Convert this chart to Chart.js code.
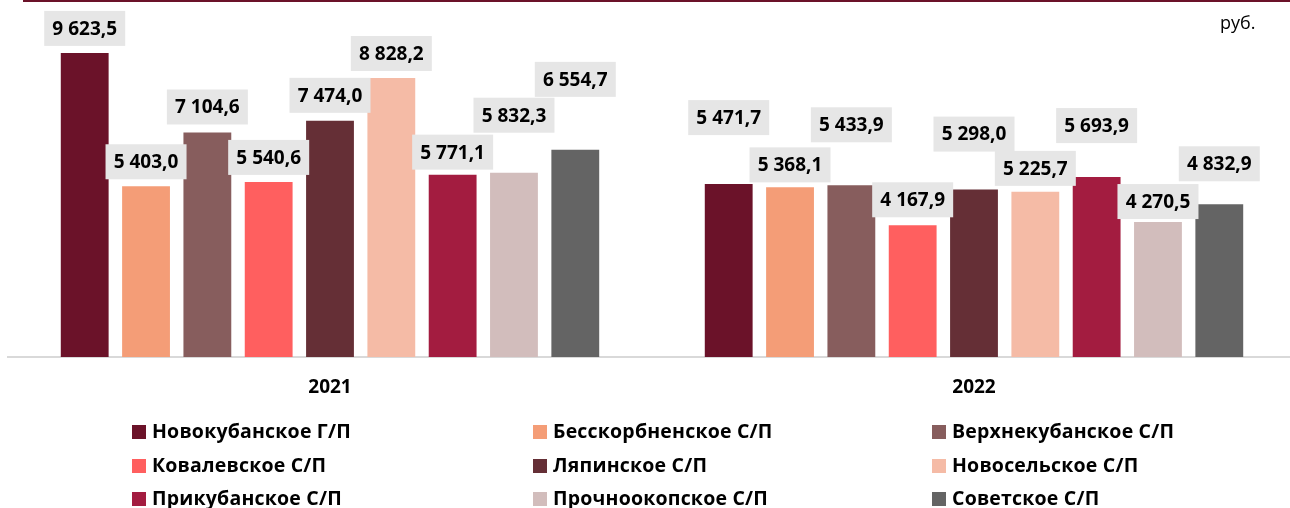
<!DOCTYPE html>
<html>
<head>
<meta charset="utf-8">
<script src="https://cdn.jsdelivr.net/npm/chart.js@4"></script>
<style>
  html, body { margin: 0; padding: 0; background: #fff; overflow: hidden; }
  #wrap { position: relative; width: 1296px; height: 508px; }
  #topLine { position: absolute; left: 23px; right: 0; top: 0; height: 2px; background: #6B1229; }
  #unit { position: absolute; left: 1220px; top: 10px; font: 18px "Open Sans", sans-serif; color: #000; }
  .leg { position: absolute; font: bold 19.5px "Open Sans", sans-serif; color: #000; white-space: nowrap; line-height: 20px; letter-spacing: 0.2px; }
  .leg span { display: inline-block; width: 14px; height: 14px; margin-right: 6px; vertical-align: -1px; }
</style>
</head>
<body>
<div id="wrap">
  <canvas id="chart" width="1296" height="508"></canvas>
  <div id="topLine"></div>
  <div id="unit">руб.</div>
  <div id="legend"></div>
</div>
<script>
const years = ['2021', '2022'];

const seriesNames = [
    'Новокубанское Г/П', 'Бесскорбненское С/П', 'Верхнекубанское С/П',
    'Ковалевское С/П', 'Ляпинское С/П', 'Новосельское С/П',
    'Прикубанское С/П', 'Прочноокопское С/П', 'Советское С/П'
];

// values by settlement: [2021, 2022]
const novokubanskoe = [9623.5, 5471.7];
const besskorbnenskoe = [5403.0, 5368.1];
const verkhnekubanskoe = [7104.6, 5433.9];
const kovalevskoe = [5540.6, 4167.9];
const lyapinskoe = [7474.0, 5298.0];
const novoselskoe = [8828.2, 5225.7];
const prikubanskoe = [5771.1, 5693.9];
const prochnookopskoe = [5832.3, 4270.5];
const sovetskoe = [6554.7, 4832.9];

const seriesValues = [novokubanskoe, besskorbnenskoe, verkhnekubanskoe, kovalevskoe,
    lyapinskoe, novoselskoe, prikubanskoe, prochnookopskoe, sovetskoe];

const colors = ['#6B1229', '#F49D77', '#875D5D', '#FF5F5F', '#652F36',
    '#F5BBA6', '#A31C40', '#D2BDBC', '#646464'];

// how far each value label sits above its bar (px), per year
const labelGap = [
    [7, 7, 8, 7, 8, 7, 5, 40, 53],
    [49, 5, 43, 8, 38, 6, 34, 3, 23]
];

function fmt(v) {
    const s = v.toFixed(1).split('.');
    return s[0].replace(/\B(?=(\d{3})+(?!\d))/g, ' ') + ',' + s[1];
}

// value labels in grey boxes
const boxLabels = {
    id: 'boxLabels',
    afterDatasetsDraw(chart) {
        const ctx = chart.ctx;
        ctx.save();
        ctx.font = 'bold 19px "Open Sans", sans-serif';
        ctx.textAlign = 'center';
        ctx.textBaseline = 'middle';
        chart.data.datasets.forEach((ds, i) => {
            chart.getDatasetMeta(i).data.forEach((bar, j) => {
                const bottom = bar.y - labelGap[j][i];
                const w = 81, h = 35;
                ctx.fillStyle = '#E6E6E6';
                ctx.fillRect(bar.x - w / 2, bottom - h, w, h);
                ctx.fillStyle = '#000';
                ctx.fillText(fmt(ds.data[j]), bar.x, bottom - h / 2 + 1);
            });
        });
        ctx.restore();
    }
};

const ctx = document.getElementById('chart').getContext('2d');
new Chart(ctx, {
    type: 'bar',
    data: {
        labels: years,
        datasets: seriesNames.map((name, i) => ({
            label: name,
            data: seriesValues[i],
            backgroundColor: colors[i],
            barPercentage: 0.78,
            categoryPercentage: 0.857
        }))
    },
    options: {
        responsive: false,
        animation: false,
        layout: { padding: { top: 41, left: 8, right: 0, bottom: 0 } },
        plugins: { legend: { display: false }, tooltip: { enabled: false } },
        scales: {
            x: {
                grid: { display: true, drawOnChartArea: false, drawTicks: false },
                border: { display: true, color: '#D9D9D9', width: 2 },
                ticks: { color: '#000', font: { family: 'Open Sans', size: 19, weight: 'bold' }, padding: 19 },
                afterFit(scale) { scale.height = 151; }
            },
            y: { display: false, min: 0, max: 10000 }
        }
    },
    plugins: [boxLabels]
});

// legend in three columns
const legCols = [132, 533, 932];
const legRows = [421, 455, 488];
const legend = document.getElementById('legend');
seriesNames.forEach((name, i) => {
    const d = document.createElement('div');
    d.className = 'leg';
    d.style.left = legCols[i % 3] + 'px';
    d.style.top = legRows[Math.floor(i / 3)] + 'px';
    d.innerHTML = '<span style="background:' + colors[i] + '"></span>' + name;
    legend.appendChild(d);
});
</script>
</body>
</html>
